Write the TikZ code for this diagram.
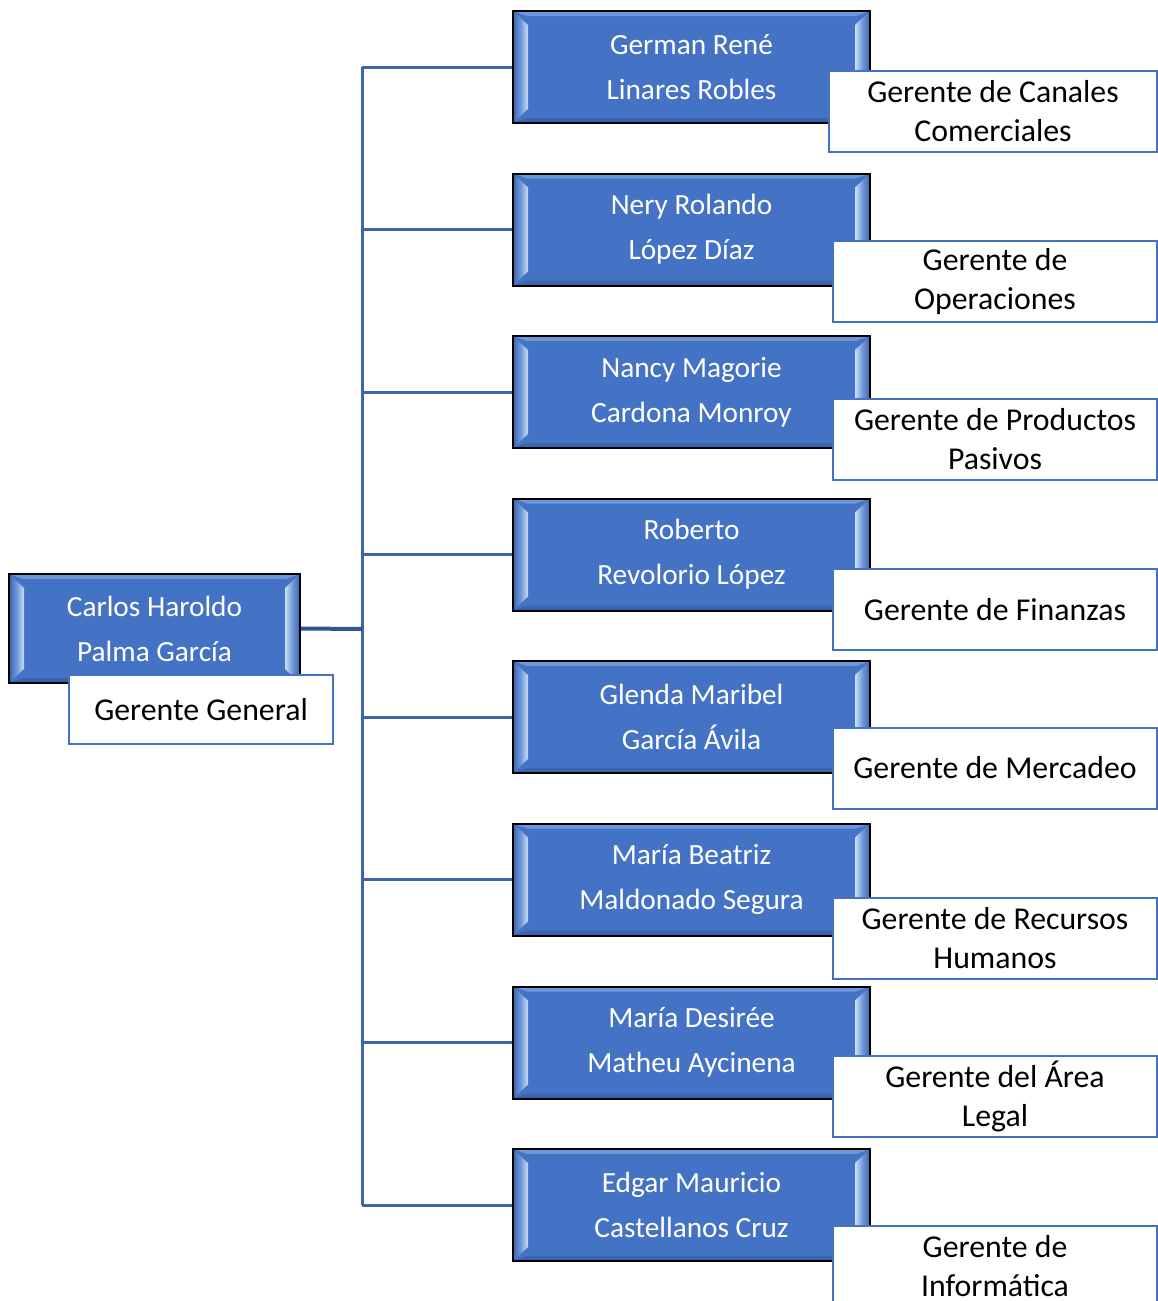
\documentclass[tikz,border=0pt]{standalone}
\usepackage{fontspec}
\setmainfont{Carlito}
\definecolor{boxblue}{HTML}{4472C4}
\definecolor{linkblue}{HTML}{3D64AC}
\definecolor{rootlinkblue}{HTML}{2F5597}
\definecolor{rolebord}{HTML}{4472C4}
\definecolor{bevlight}{HTML}{C9DFF7}
\definecolor{bevmid}{HTML}{6E96D8}
\definecolor{bevdark}{HTML}{3A64AE}
\tikzset{
  person/.style={draw=black, line width=2pt, fill=boxblue, inner sep=0pt,
    minimum width=357pt, minimum height=112pt, text=white, align=center,
    font=\fontsize{29.3}{45}\selectfont,
    path picture={
      \coordinate (bsw) at (path picture bounding box.south west);
      \coordinate (bnw) at (path picture bounding box.north west);
      \coordinate (bse) at (path picture bounding box.south east);
      \coordinate (bne) at (path picture bounding box.north east);
      \fill[bevmid] (bnw) -- (bne) -- ([xshift=-14pt,yshift=-5pt]bne) -- ([xshift=14pt,yshift=-5pt]bnw) -- cycle;
      \fill[bevdark] (bsw) -- (bse) -- ([xshift=-14pt,yshift=5pt]bse) -- ([xshift=14pt,yshift=5pt]bsw) -- cycle;
      \shade[left color=bevdark, right color=bevlight, middle color=bevmid]
        (bsw) -- ([xshift=15pt,yshift=14pt]bsw) -- ([xshift=15pt,yshift=-14pt]bnw) -- (bnw) -- cycle;
      \shade[left color=bevlight, right color=bevdark, middle color=bevmid]
        (bse) -- ([xshift=-15pt,yshift=14pt]bse) -- ([xshift=-15pt,yshift=-14pt]bne) -- (bne) -- cycle;
    }},
  role/.style={draw=rolebord, line width=2pt, fill=white, inner sep=0pt,
    minimum width=324pt, minimum height=81pt, text=black, align=center,
    font=\fontsize{31.8}{39}\selectfont},
  link/.style={draw=linkblue, line width=3pt},
  rootlink/.style={draw=rootlinkblue, line width=4pt}
}
\begin{document}
\begin{tikzpicture}[x=1pt, y=-1pt]
\clip (0,0) rectangle (1158,1301);
\fill[white] (0,0) rectangle (1158,1301);
\coordinate (trunk) at (362,629);

% people
\node[person, minimum width=291pt, minimum height=109pt] (p0) at (154.5,628.5) {Carlos Haroldo\\Palma García};
\node[person] (p1) at (691.5,67) {German René\\Linares Robles};
\node[person] (p2) at (691.5,229.5) {Nery Rolando\\López Díaz};
\node[person] (p3) at (691.5,392) {Nancy Magorie\\Cardona Monroy};
\node[person] (p4) at (691.5,554.5) {Roberto\\Revolorio López};
\node[person] (p5) at (691.5,717) {Glenda Maribel\\García Ávila};
\node[person] (p6) at (691.5,879.5) {María Beatriz\\Maldonado Segura};
\node[person] (p7) at (691.5,1042.5) {María Desirée\\Matheu Aycinena};
\node[person] (p8) at (691.5,1205) {Edgar Mauricio\\Castellanos Cruz};

% connectors
\draw[link] (trunk |- p1.west) -- (trunk |- p8.west);
\foreach \i in {1,...,8} {
  \draw[link] (trunk |- p\i.west) -- (p\i.west);
}
\draw[rootlink] (p0.east) -- (trunk);

% roles
\node[role, minimum width=264pt, minimum height=69pt] (r0) at (201,709.5) {Gerente General};
\node[role, minimum width=328pt] (r1) at (993,111.5) {Gerente de Canales\\Comerciales};
\node[role] (r2) at (995,281.5) {Gerente de\\Operaciones};
\node[role] (r3) at (995,439.5) {Gerente de Productos\\Pasivos};
\node[role] (r4) at (995,609.5) {Gerente de Finanzas};
\node[role] (r5) at (995,768) {Gerente de Mercadeo};
\node[role] (r6) at (995,938) {Gerente de Recursos\\Humanos};
\node[role] (r7) at (995,1096.5) {Gerente del Área\\Legal};
\node[role] (r8) at (995,1266.5) {Gerente de\\Informática};
\end{tikzpicture}
\end{document}
